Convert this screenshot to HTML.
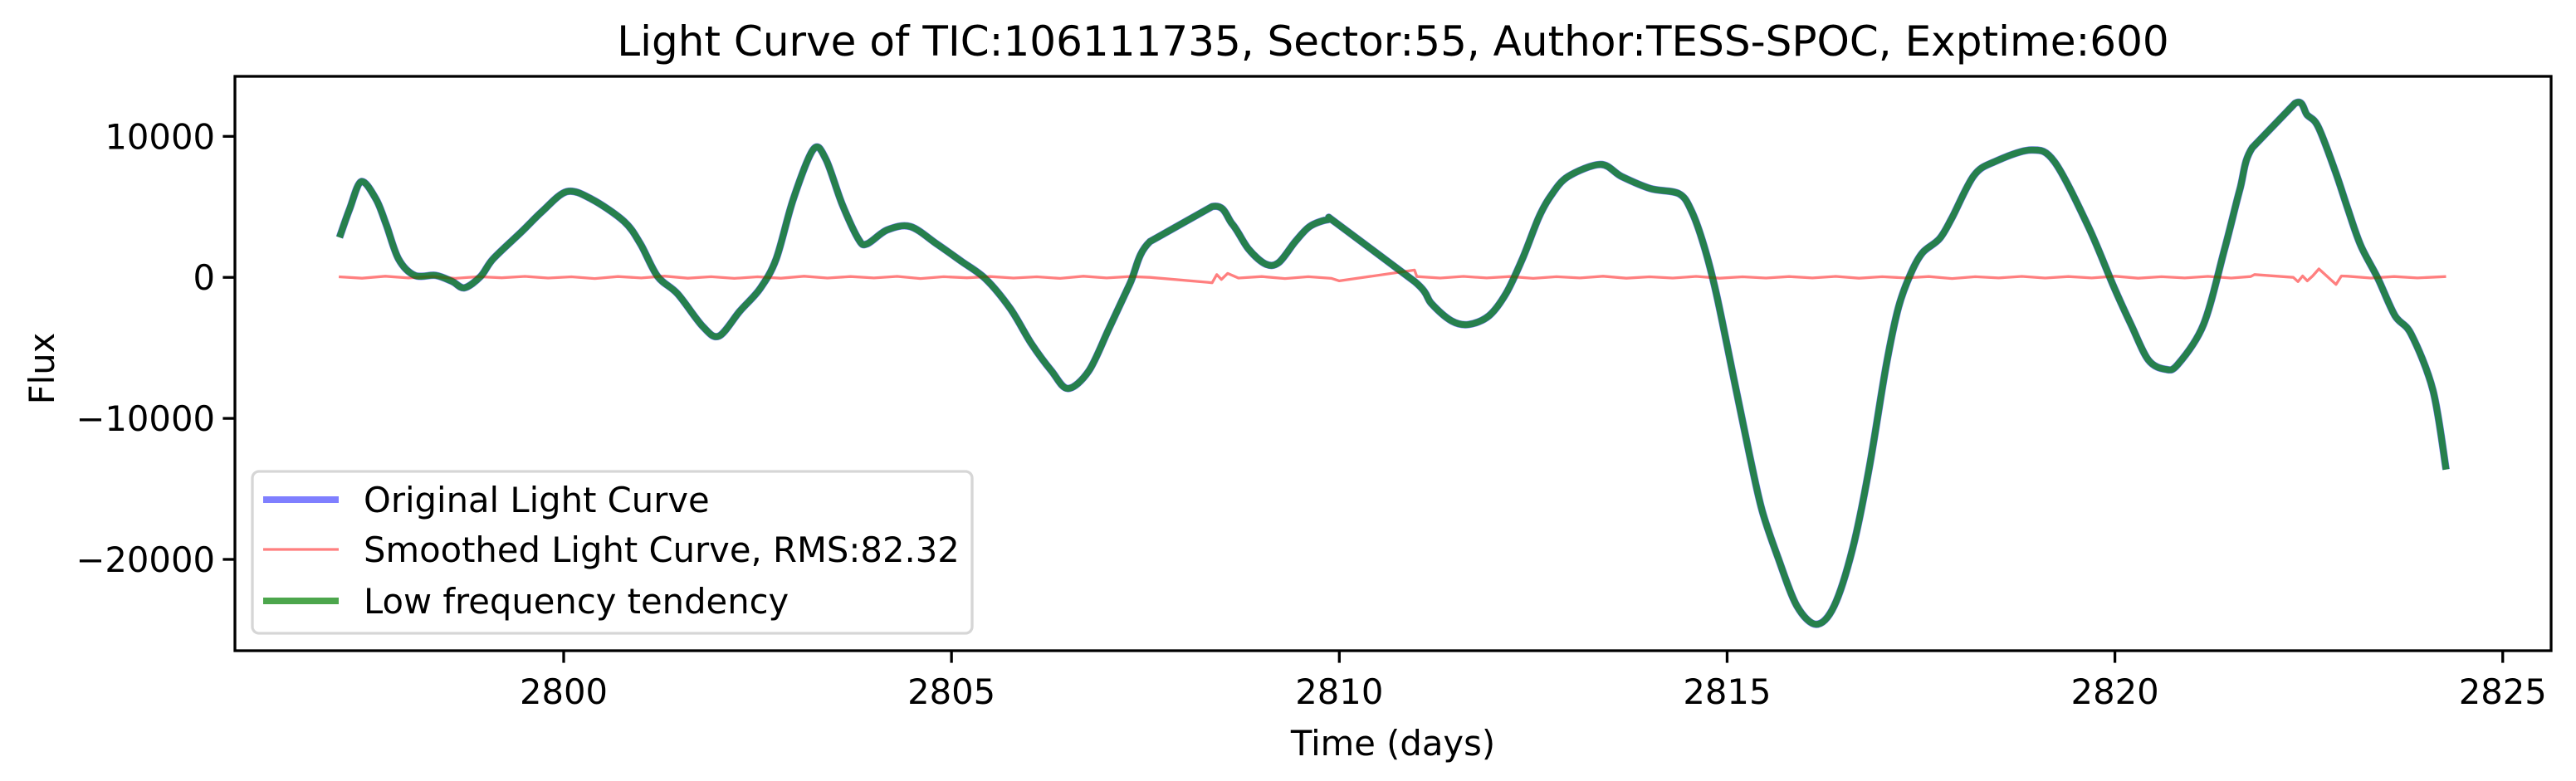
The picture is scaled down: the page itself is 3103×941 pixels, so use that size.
<!DOCTYPE html>
<html><head><meta charset="utf-8"><style>
html,body{margin:0;padding:0;background:#fff;}
svg{display:block;font-family:"DejaVu Sans","Liberation Sans",sans-serif;}
</style></head><body>
<svg id="chart" width="3103" height="941" viewBox="0 0 3103 941" xmlns="http://www.w3.org/2000/svg">
<rect width="3103" height="941" fill="#fff"/>
<text x="1678" y="67" font-size="50" text-anchor="middle">Light Curve of TIC:106111735, Sector:55, Author:TESS-SPOC, Exptime:600</text>
<g id="series"></g>
<g id="axes"></g>
<text x="0" y="0" font-size="41.7" text-anchor="middle" transform="translate(65,444) rotate(-90)">Flux</text>
<text x="1678" y="910" font-size="41.7" text-anchor="middle">Time (days)</text>
<g>
<rect x="304" y="568" width="867" height="195" rx="8" fill="#fff" fill-opacity="0.8" stroke="#d6d6d6" stroke-width="3.3"/>
<line x1="317" y1="602" x2="408" y2="602" stroke="#0000ff" stroke-opacity="0.5" stroke-width="8"/>
<text x="438" y="617" font-size="41.7">Original Light Curve</text>
<line x1="317" y1="662" x2="408" y2="662" stroke="#ff0000" stroke-opacity="0.5" stroke-width="3.3"/>
<text x="438" y="677" font-size="41.7">Smoothed Light Curve, RMS:82.32</text>
<line x1="317" y1="724" x2="408" y2="724" stroke="#008000" stroke-opacity="0.7" stroke-width="8"/>
<text x="438" y="739" font-size="41.7">Low frequency tendency</text>
</g>
</svg>
<script>
const xTicks = [2800, 2805, 2810, 2815, 2820, 2825];
const yTicks = [10000, 0, -10000, -20000];
const yTickLabels = ["10000", "0", "\u221210000", "\u221220000"];
const trendTime = [2797.11,2797.24,2797.39,2797.58,2797.71,2797.87,2798.08,2798.35,2798.56,2798.72,2798.93,2799.09,2799.46,2799.72,2800.04,2800.36,2800.78,2800.99,2801.21,2801.47,2801.79,2802.00,2802.27,2802.53,2802.74,2802.96,2803.22,2803.38,2803.59,2803.80,2803.91,2804.17,2804.47,2804.81,2805.13,2805.44,2805.76,2806.03,2806.29,2806.50,2806.77,2807.03,2807.30,2807.56,2808.36,2808.62,2808.83,2809.05,2809.22,2809.43,2809.62,2809.86,2809.96,2810.97,2811.19,2811.45,2811.67,2811.93,2812.15,2812.36,2812.57,2812.73,2812.95,2813.37,2813.64,2814.01,2814.38,2814.54,2814.70,2814.86,2815.08,2815.29,2815.45,2815.66,2815.90,2816.15,2816.38,2816.62,2816.83,2817.05,2817.21,2817.37,2817.52,2817.74,2817.90,2818.18,2818.45,2818.92,2819.22,2819.66,2819.99,2820.21,2820.43,2820.65,2820.81,2821.14,2821.41,2821.61,2821.77,2822.32,2822.48,2822.62,2822.84,2823.00,2823.17,2823.39,2823.61,2823.82,2824.10,2824.27];
const trendFlux = [2830,4840,6790,5550,3780,1310,140,140,-280,-740,70,1310,3250,4660,6080,5550,3960,2370,70,-1170,-3460,-4170,-2400,-810,1310,5550,9080,8380,5200,2720,2370,3360,3600,2370,1130,-110,-2230,-4700,-6640,-7880,-6640,-3640,-460,2540,5020,3780,2010,950,1054,2518,3616,4100,3860,-288,-1874,-3094,-3338,-2728,-1142,1298,4226,5812,7154,8008,7154,6300,5934,4714,2274,-1142,-6998,-12610,-16514,-19930,-23300,-24600,-23300,-19198,-13586,-6266,-2118,300,1754,2746,4234,7210,8202,9029,8202,3573,-727,-3372,-5853,-6514,-6183,-3372,1919,6218,9194,12336,11509,10683,7541,4895,2250,-66,-2711,-4034,-8002,-13624];
const residTime = [2797.1,2797.4,2797.7,2798.0,2798.3,2798.6,2798.9,2799.2,2799.5,2799.8,2800.1,2800.4,2800.7,2801.0,2801.3,2801.6,2801.9,2802.2,2802.5,2802.8,2803.1,2803.4,2803.7,2804.0,2804.3,2804.6,2804.9,2805.2,2805.5,2805.8,2806.1,2806.4,2806.7,2807.0,2807.3,2807.56,2808.3,2808.36,2808.42,2808.48,2808.56,2808.7,2809.0,2809.3,2809.6,2809.9,2810.0,2810.97,2811.0,2811.3,2811.6,2811.9,2812.2,2812.5,2812.8,2813.1,2813.4,2813.7,2814.0,2814.3,2814.6,2814.9,2815.2,2815.5,2815.8,2816.1,2816.4,2816.7,2817.0,2817.3,2817.6,2817.9,2818.2,2818.5,2818.8,2819.1,2819.4,2819.7,2820.0,2820.3,2820.6,2820.9,2821.2,2821.5,2821.75,2821.8,2822.3,2822.36,2822.42,2822.48,2822.55,2822.63,2822.85,2822.92,2823.0,2823.3,2823.6,2823.9,2824.27];
const residFlux = [40,-60,80,-40,60,-70,50,-30,70,-50,40,-80,60,-40,90,-60,50,-70,40,-60,80,-50,60,-40,70,-80,50,-30,60,-50,40,-70,80,-40,60,0,-350,-380,200,-150,280,-50,60,-80,50,-70,-250,520,60,-50,70,-40,60,-70,50,-40,80,-60,40,-50,70,-60,40,-50,60,-40,70,-60,50,-40,60,-80,50,-40,70,-50,60,-40,80,-60,50,-40,70,-50,60,200,0,-300,100,-250,100,600,-500,100,80,-50,60,-40,60];

const L=283,R=3073,T=92,B=784;
const xs=t=>679+(t-2800)*93.43;
const ys=f=>334.2-f*0.01699;
const NS="http://www.w3.org/2000/svg";
const series=document.getElementById('series');
const axes=document.getElementById('axes');
function mk(tag,attrs){const e=document.createElementNS(NS,tag);for(const k in attrs)e.setAttribute(k,attrs[k]);return e;}
function pts(tt,ff){return tt.map((t,i)=>xs(t).toFixed(1)+','+ys(ff[i]).toFixed(1)).join(' ');}
function smoothPath(tt,ff){
  const p=tt.map((t,i)=>[xs(t),ys(ff[i])]);
  let d='M'+p[0][0].toFixed(1)+','+p[0][1].toFixed(1);
  for(let i=0;i<p.length-1;i++){
    const p0=p[Math.max(0,i-1)],p1=p[i],p2=p[i+1],p3=p[Math.min(p.length-1,i+2)];
    const gap=(p2[0]-p1[0])>50;
    if(gap){d+=' L'+p2[0].toFixed(1)+','+p2[1].toFixed(1);continue;}
    const k=0.16;
    const c1=[p1[0]+(p2[0]-p0[0])*k,p1[1]+(p2[1]-p0[1])*k];
    const c2=[p2[0]-(p3[0]-p1[0])*k,p2[1]-(p3[1]-p1[1])*k];
    d+=' C'+c1[0].toFixed(1)+','+c1[1].toFixed(1)+' '+c2[0].toFixed(1)+','+c2[1].toFixed(1)+' '+p2[0].toFixed(1)+','+p2[1].toFixed(1);
  }
  return d;
}

const orig=mk('path',{d:smoothPath(trendTime,trendFlux),fill:'none',stroke:'#0000ff','stroke-opacity':0.5,'stroke-width':9,'stroke-linejoin':'round'});


series.appendChild(orig);
const resid=mk('polyline',{points:pts(residTime,residFlux),fill:'none',stroke:'#ff0000','stroke-opacity':0.5,'stroke-width':3.3,'stroke-linejoin':'round'});


series.appendChild(resid);
const trend=mk('path',{d:smoothPath(trendTime,trendFlux),fill:'none',stroke:'#008000','stroke-opacity':0.7,'stroke-width':8,'stroke-linejoin':'round'});


series.appendChild(trend);

const frame=mk('rect',{x:L,y:T,width:R-L,height:B-T,fill:'none',stroke:'#000','stroke-width':3.3});


axes.appendChild(frame);
xTicks.forEach(v=>{
  const x=xs(v);
  const tk=mk('line',{x1:x,y1:B,x2:x,y2:B+14.6,stroke:'#000','stroke-width':3.3});
  
  
  axes.appendChild(tk);
  const lb=mk('text',{x:x,y:848,'font-size':41.7,'text-anchor':'middle'});
  
  
  lb.textContent=String(v);
  axes.appendChild(lb);
});
yTicks.forEach((v,i)=>{
  const y=ys(v);
  const tk=mk('line',{x1:L-14.6,y1:y,x2:L,y2:y,stroke:'#000','stroke-width':3.3});
  
  
  axes.appendChild(tk);
  const lb=mk('text',{x:L-24,y:y+15,'font-size':41.7,'text-anchor':'end'});
  
  
  lb.textContent=yTickLabels[i];
  axes.appendChild(lb);
});
</script>
</body></html>
